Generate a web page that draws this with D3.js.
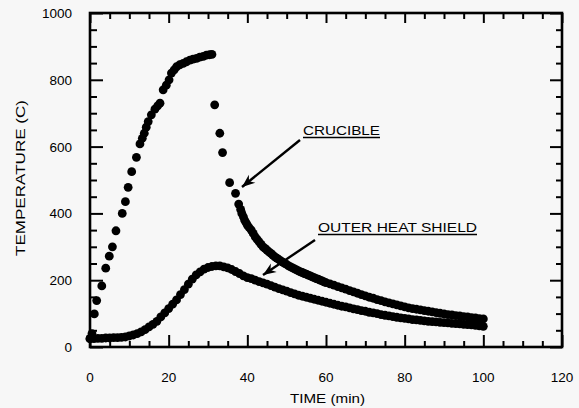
<!DOCTYPE html>
<html><head><meta charset="utf-8">
<script src="https://cdn.jsdelivr.net/npm/d3@7"></script>
<style>body{margin:0;background:#f7f7f7;}svg{display:block;}</style>
</head><body>
<svg id="c" width="579" height="408"></svg>
<script>
// ---- data ----
const crucibleTime = [0,0.5,1.1,1.7,3.0,4.0,4.9,5.7,6.6,8.2,9.0,9.7,10.6,11.8,12.7,13.3,13.8,14.3,14.8,15.6,16.5,17.2,17.8,18.6,19.4,20.1,20.7,21.4,22.0,22.8,23.7,24.5,25.4,26.2,27.1,27.9,28.8,29.6,30.4,31.0,
  31.7,33.0,33.7,35.5,37.0,37.8,38.3,38.6,39.0,39.3,39.7,40,40.5,41,41.5,42,42.5,43,43.5,44,44.5,45,45.5,46,46.5,47,47.5,48,48.5,49,49.5,50,50.5,51,51.5,52,52.5,53,53.5,54,54.5,55,55.5,56,56.5,57,57.5,58,58.5,59,59.5,60,
  61,62,63,64,65,66,67,68,69,70,71,72,73,74,75,76,77,78,79,80,81,82,83,84,85,86,87,88,89,90,91,92,93,94,95,96,97,98,99,100];
const crucibleTemp = [25,40,99,139,183,236,272,300,348,400,435,478,525,568,608,625,640,658,675,695,712,722,730,770,784,800,820,830,839,845,849,854,859,862,864,868,870,874,875,876,
  725,640,582,492,460,428,412,400,390,380,372,365,357,350,340,330,322,315,307,300,295,290,285,280,275,270,266,262,258,254,250,247,243,240,237,234,231,228,225,223,220,218,215,213,210,208,205,203,200,198,195,193,
  189,185,181,177,173,169,165,161,157,153,149,146,142,139,135,132,129,126,123,120,117,115,113,111,109,107,105,103,101,99,97,96,94,93,91,90,88,87,85,84];
const shieldTime = [0,1,2,3,4,5,6,7,8,9,10,11,12,13,14,15,16,17,18,19,20,21,22,23,24,25,26,27,28,29,30,31,32,33,34,35,36,37,38,39,40,41,42,43,44,45,46,47,48,49,50,51,52,53,54,55,56,57,58,59,60,61,62,63,64,65,66,67,68,69,70,71,72,73,74,75,76,77,78,79,80,81,82,83,84,85,86,87,88,89,90,91,92,93,94,95,96,97,98,99,100];
const shieldTemp = [25,25,26,26,27,27,28,28,29,30,33,36,40,45,52,60,68,77,90,102,115,128,141,157,172,188,203,216,225,233,238,241,243,243,240,237,232,226,220,213,208,205,200,196,192,188,184,179,175,171,167,163,159,155,152,149,146,143,140,137,134,131,128,125,122,120,117,114,112,109,107,104,102,100,97,95,93,91,89,87,86,84,82,81,80,78,77,76,75,74,73,72,71,70,69,68,67,66,65,63,62];
const xTicks = [0,20,40,60,80,100,120];
const yTicks = [0,200,400,600,800,1000];
const xTitle = "TIME (min)";
const yTitle = "TEMPERATURE (C)";
const labelCrucible = "CRUCIBLE";
const labelShield = "OUTER HEAT SHIELD";

// ---- layout ----
const svg = d3.select("#c");
const L = 90, R = 562, T = 13, B = 347;
const x = d3.scaleLinear().domain([0,120]).range([L,R]);
const y = d3.scaleLinear().domain([0,1000]).range([B,T]);
const font = "'Liberation Sans', Arial, Helvetica, sans-serif";

svg.append("rect").attr("width",579).attr("height",408).attr("fill","#f7f7f7");

const xMinor = d3.range(0,121,5), yMinor = d3.range(0,1001,50);

const gx = svg.append("g").attr("transform",`translate(0,${B})`)
  .call(d3.axisBottom(x).tickValues(xMinor).tickSize(0).tickFormat(""));
gx.selectAll(".tick line").attr("y2", d => -(xTicks.includes(d)?12:6));
const gxt = svg.append("g").attr("transform",`translate(0,${T})`)
  .call(d3.axisTop(x).tickValues(xMinor).tickSize(0).tickFormat(""));
gxt.selectAll(".tick line").attr("y2", d => (xTicks.includes(d)?10:6));
const gy = svg.append("g").attr("transform",`translate(${L},0)`)
  .call(d3.axisLeft(y).tickValues(yMinor).tickSize(0).tickFormat(""));
gy.selectAll(".tick line").attr("x2", d => (yTicks.includes(d)?13:7));
const gyr = svg.append("g").attr("transform",`translate(${R},0)`)
  .call(d3.axisRight(y).tickValues(yMinor).tickSize(0).tickFormat(""));
gyr.selectAll(".tick line").attr("x2", d => -(yTicks.includes(d)?12:6));
svg.selectAll(".domain").remove();
svg.selectAll(".tick line").attr("stroke","#000").attr("stroke-width",2);

// frame
svg.append("rect").attr("x",L).attr("y",T).attr("width",R-L).attr("height",B-T)
  .attr("fill","none").attr("stroke","#000").attr("stroke-width",2.6);

// tick labels
svg.append("g").selectAll("text").data(xTicks).join("text")
  .attr("x", d=>x(d)).attr("y", 382).attr("text-anchor","middle")
  .attr("font-family",font).attr("font-size",13.5).attr("fill","#000").text(d=>d);
svg.append("g").selectAll("text").data(yTicks).join("text")
  .attr("x", 72).attr("y", d=>y(d)+5).attr("text-anchor","end")
  .attr("font-family",font).attr("font-size",13.5).attr("fill","#000").text(d=>d);

// titles
svg.append("text").attr("x",290).attr("y",403)
  .attr("textLength",75).attr("lengthAdjust","spacingAndGlyphs")
  .attr("font-family",font).attr("font-size",13.5).attr("fill","#000").text(xTitle);
svg.append("text").attr("transform",`translate(25,256) rotate(-90)`)
  .attr("textLength",156).attr("lengthAdjust","spacingAndGlyphs")
  .attr("font-family",font).attr("font-size",13.5).attr("fill","#000").text(yTitle);

// markers
function dots(tArr, vArr){
  svg.append("g").selectAll("circle").data(tArr).join("circle")
    .attr("cx",(d)=>x(d)).attr("cy",(d,i)=>y(vArr[i])).attr("r",4.4).attr("fill","#000");
}
dots(shieldTime, shieldTemp);
dots(crucibleTime, crucibleTemp);

// annotations
function arrow(x1,y1,x2,y2){
  svg.append("line").attr("x1",x1).attr("y1",y1).attr("x2",x2).attr("y2",y2)
    .attr("stroke","#000").attr("stroke-width",2.4);
  const a = Math.atan2(y2-y1,x2-x1), len=14, w=0.38;
  const p1=[x2-len*Math.cos(a-w), y2-len*Math.sin(a-w)];
  const p2=[x2-len*Math.cos(a+w), y2-len*Math.sin(a+w)];
  const pm=[x2-9*Math.cos(a), y2-9*Math.sin(a)];
  svg.append("path").attr("d",`M${x2},${y2}L${p1}L${pm}L${p2}Z`).attr("fill","#000");
}
function label(txt,x0,yb,w){
  svg.append("text").attr("x",x0).attr("y",yb).attr("font-family",font).attr("font-size",13.5)
    .attr("textLength",w).attr("lengthAdjust","spacingAndGlyphs").attr("fill","#000").text(txt);
  svg.append("line").attr("x1",x0).attr("x2",x0+w).attr("y1",yb+2.5).attr("y2",yb+2.5)
    .attr("stroke","#000").attr("stroke-width",1.4);
}
label(labelCrucible,303,135,77);
arrow(300,140,242,187);
label(labelShield,318,232,159);
arrow(315,240,263,275);
</script>
</body></html>
